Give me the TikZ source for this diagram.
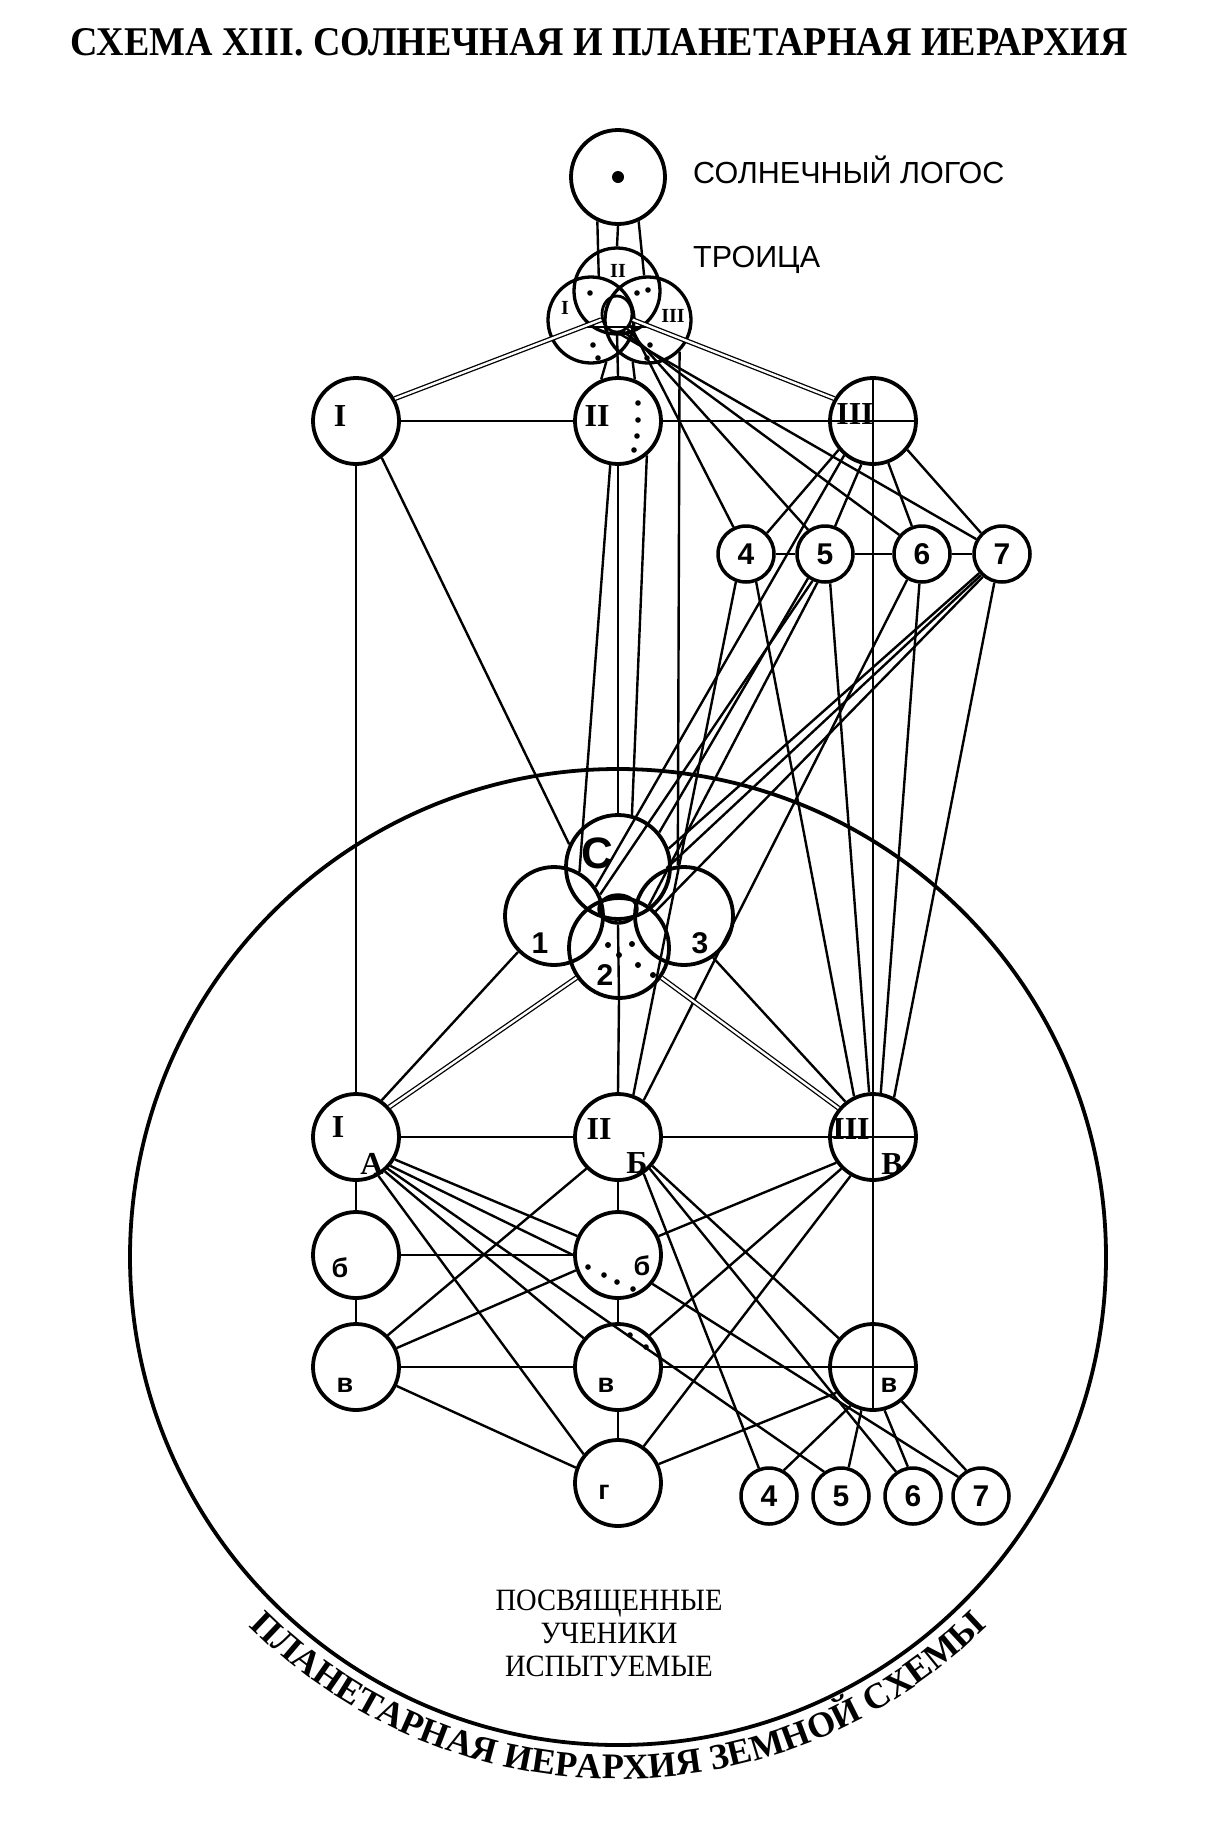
\documentclass[tikz,border=0pt]{standalone}
\usepackage{fontspec}
\usepackage{graphicx}
\setmainfont{Liberation Serif}
\newfontfamily\sansf{Liberation Sans}
\newfontfamily\midf[FakeStretch=0.92]{Liberation Serif}
\usetikzlibrary{shapes.geometric, decorations.text}

\begin{document}
\begin{tikzpicture}[
    x=1pt, y=1pt,
    bigc/.style={circle, draw, line width=3.8pt, minimum size=86pt, inner sep=0pt},
    smallc/.style={circle, draw, line width=3.5pt, minimum size=56pt, inner sep=0pt, font=\sansf\bfseries\fontsize{30}{30}\selectfont},
    link/.style={line width=2.4pt},
    twin/.style={double, double distance=2.4pt, line width=1.3pt},
    romlbl/.style={inner sep=0pt, font=\bfseries\fontsize{32}{32}\selectfont},
    trilbl/.style={inner sep=0pt, font=\bfseries\fontsize{20}{20}\selectfont},
    cyrlbl/.style={inner sep=0pt, font=\sansf\bfseries\fontsize{27}{27}\selectfont},
    numlbl/.style={inner sep=0pt, font=\sansf\bfseries\fontsize{30}{30}\selectfont},
    sidetext/.style={inner sep=0pt, anchor=base west, font=\sansf\fontsize{30.5}{30.5}\selectfont}
]
\useasboundingbox (0,0) rectangle (1210,-1826);

% Заголовок
\node[anchor=base, inner sep=0pt] (title) at (599,-55)
    {\resizebox{1057pt}{27pt}{\bfseries СХЕМА XIII. СОЛНЕЧНАЯ И ПЛАНЕТАРНАЯ ИЕРАРХИЯ}};

% Солнечный Логос и Троица
\node[bigc, minimum size=94pt] (logos) at (618,-177) {};
\fill (logos.center) circle[radius=6];
\node[sidetext] (logoslab) at (693,-183) {СОЛНЕЧНЫЙ ЛОГОС};
\node[sidetext] (trinitylab) at (693,-267) {ТРОИЦА};

\node[bigc, line width=3.3pt] (tII) at (617,-291) {};
\node[bigc, line width=3.3pt] (tI) at (591,-320) {};
\node[bigc, line width=3.3pt] (tIII) at (648,-320) {};
\node[ellipse, draw, line width=2.8pt, minimum width=30pt, minimum height=36pt, inner sep=0pt] (tc) at (617,-314) {};
\draw[link] ([shift={(-32,-13)}]tc.center) -- ([shift={(38,-13)}]tc.center);
\node[trilbl] (tIlab) at (565,-308) {I};
\node[trilbl] (tIIlab) at (618,-271) {II};
\node[trilbl] (tIIIlab) at (673,-316) {III};
\foreach \p in {(590,-293),(637,-293),(648,-290),(593,-345),(598,-358),(647,-358),(650,-345)}
    \fill \p circle[radius=2.8];

\draw[link] (logos.245) -- (tI.80);
\draw[link] (logos.south) -- (tII.north);
\draw[link] (logos.295) -- (tIII.95);

% Солнечная иерархия: I, II, III
\node[bigc] (hI) at (356,-421) {};
\node[bigc] (hII) at (618,-421) {};
\node[bigc] (hIII) at (873,-421) {};
\node[romlbl] (hIlab) at (340,-416) {I};
\node[romlbl] (hIIlab) at (597,-416) {II};
\node[romlbl] (hIIIlab) at (855,-414) {III};
\foreach \p in {(638,-403),(638,-420),(637,-436),(634,-450)}
    \fill \p circle[radius=2.8];

\node[smallc] (s4) at (746,-554) {4};
\node[smallc] (s5) at (825,-554) {5};
\node[smallc] (s6) at (922,-554) {6};
\node[smallc] (s7) at (1002,-554) {7};

\draw[twin] (tc.200) -- (hI.30);
\draw[twin] (tc.-20) -- (hIII.150);
\draw[link] (tI.290) -- (hII.112);
\draw[link] (tc.south) -- (hII.north);
\draw[link] (tIII.250) -- (hII.68);
\draw[link] (tc.-40) -- (s4.115);
\draw[link] (tc.-55) -- (s5.125);
\draw[link] (tc.-70) -- (s6.140);
\draw[link] (tc.-85) -- (s7.150);

\draw[link] (hI.east) -- (hII.west);
\draw[link] (hII.east) -- (hIII.east);
\draw[link] (s4) -- (s5);
\draw[link] (s5) -- (s6);
\draw[link] (s6) -- (s7);
\draw[link] (hIII.220) -- (s4.45);
\draw[link] (hIII.255) -- (s5.70);
\draw[link] (hIII.290) -- (s6.110);
\draw[link] (hIII.320) -- (s7.135);

% Группа С, 1, 2, 3
\node[bigc, minimum size=104pt] (C) at (618,-867) {};
\node[bigc, minimum size=98pt] (c1) at (554,-916) {};
\node[bigc, minimum size=98pt] (c3) at (684,-916) {};
\node[bigc, minimum size=100pt] (c2) at (619,-948) {};
\node[ellipse, draw, line width=3.4pt, minimum width=38pt, minimum height=28pt, inner sep=0pt] (cc) at (618,-909) {};
\draw[link] (cc.south) -- (c2.south);
\node[inner sep=0pt, font=\sansf\bfseries\fontsize{44}{44}\selectfont] (Clab) at (597,-853) {С};
\node[numlbl] (c1lab) at (540,-943) {1};
\node[numlbl] (c2lab) at (605,-975) {2};
\node[numlbl] (c3lab) at (700,-943) {3};
\foreach \p in {(608,-945),(632,-944),(619,-955),(638,-965),(653,-975)}
    \fill \p circle[radius=3];

\draw[link] (hI.-55) -- (C.155);
\draw[link] (hII.-100) -- (c1.60);
\draw[link] (hII.south) -- (C.north);
\draw[link] (hII.-50) -- (C.75);
\draw[link] (tIII.315) -- (c3.97);
\draw[link] (hIII.230) -- (c1.35);

\draw[link] (s5.235) -- (C.40);
\draw[link] (s5.245) -- (c1.25);
\draw[link] (s5.255) -- (c2.55);
\draw[link] (s7.220) -- (C.20);
\draw[link] (s7.225) -- (c3.110);
\draw[link] (s7.230) -- (c2.45);

% Планетарная иерархия: I, II, III
\node[bigc] (I2) at (356,-1137) {};
\node[bigc] (II2) at (618,-1137) {};
\node[bigc] (III2) at (873,-1137) {};
\node[romlbl] (I2lab) at (338,-1127) {I};
\node[romlbl] (I2sub) at (372,-1164) {А};
\node[romlbl] (II2lab) at (599,-1129) {II};
\node[romlbl] (II2sub) at (637,-1163) {Б};
\node[romlbl] (III2lab) at (851,-1129) {III};
\node[romlbl] (III2sub) at (892,-1164) {В};

\node[bigc] (b1) at (356,-1255) {};
\node[bigc] (b2) at (618,-1255) {};
\node[bigc] (v1) at (356,-1367) {};
\node[bigc] (v2) at (618,-1367) {};
\node[bigc] (v3) at (873,-1367) {};
\node[bigc] (g) at (618,-1483) {};
\node[cyrlbl] (b1lab) at (340,-1268) {б};
\node[cyrlbl] (b2lab) at (642,-1266) {б};
\node[cyrlbl] (v1lab) at (345,-1385) {в};
\node[cyrlbl] (v2lab) at (606,-1385) {в};
\node[cyrlbl] (v3lab) at (889,-1385) {в};
\node[cyrlbl] (glab) at (604,-1492) {г};
\foreach \p in {(588,-1267),(604,-1275),(617,-1282),(633,-1289),(630,-1335),(646,-1347)}
    \fill \p circle[radius=2.8];

\node[smallc] (q4) at (769,-1496) {4};
\node[smallc] (q5) at (841,-1496) {5};
\node[smallc] (q6) at (913,-1496) {6};
\node[smallc] (q7) at (981,-1496) {7};

% Связи сверху вниз
\draw[link] (hI.south) -- (I2.north);
\draw[link] (hIII.north) -- (v3.south);
\draw[link] (s4.250) -- (II2.70);
\draw[link] (s4.290) -- (III2.115);
\draw[link] (s5.280) -- (III2.95);
\draw[link] (s6.240) -- (II2.55);
\draw[link] (s6.265) -- (III2.80);
\draw[link] (s7.255) -- (III2.62);

\draw[link] (c1.225) -- (I2.55);
\draw[twin] (c2.215) -- (I2.42);
\draw[link] (c2.south) -- (II2.north);
\draw[twin] (c2.-35) -- (III2.140);
\draw[link] (c3.-55) -- (III2.128);

% Нижние ряды
\draw[link] (I2.east) -- (II2.west);
\draw[link] (II2.east) -- (III2.east);
\draw[link] (I2.south) -- (b1.north);
\draw[link] (b1.south) -- (v1.north);
\draw[link] (II2.south) -- (b2.north);
\draw[link] (b2.south) -- (v2.north);
\draw[link] (v2.south) -- (g.north);
\draw[link] (b1.east) -- (b2.west);
\draw[link] (v1.east) -- (v2.west);
\draw[link] (v2.east) -- (v3.east);

\draw[link] (I2.-30) -- (b2.155);
\draw[link] (I2.-40) -- (b2.180);
\draw[link] (I2.-50) -- (v2.140);
\draw[link] (I2.-60) -- (g.140);
\draw[link] (I2.-45) -- (q5.125);
\draw[link] (II2.225) -- (v1.45);
\draw[link] (II2.-40) -- (v3.140);
\draw[link] (II2.-55) -- (q4.110);
\draw[link] (II2.-45) -- (q6.125);
\draw[link] (III2.215) -- (b2.25);
\draw[link] (III2.225) -- (v2.45);
\draw[link] (III2.240) -- (g.55);
\draw[link] (b2.-40) -- (q7.140);
\draw[link] (v1.25) -- (b2.200);
\draw[link] (v1.-25) -- (g.160);
\draw[link] (g.25) -- (v3.215);
\draw[link] (v3.240) -- (q4.60);
\draw[link] (v3.255) -- (q5.75);
\draw[link] (v3.285) -- (q6.100);
\draw[link] (v3.310) -- (q7.120);

% Большой круг земной схемы
\coordinate (hub) at (618,-1257);
\draw[line width=3.8pt] (hub) circle[radius=488];
\node[inner sep=0pt, align=center, font=\midf\fontsize{31}{33}\selectfont] (ranks) at (609,-1633)
    {ПОСВЯЩЕННЫЕ\\УЧЕНИКИ\\ИСПЫТУЕМЫЕ};
\path[decorate, decoration={text along path, text align=center,
    text={|\bfseries\fontsize{36}{36}\selectfont|ПЛАНЕТАРНАЯ ИЕРАРХИЯ ЗЕМНОЙ СХЕМЫ}}]
    ([shift={(220:522)}]hub) arc[start angle=220, end angle=320, radius=522];

\end{tikzpicture}
\end{document}
